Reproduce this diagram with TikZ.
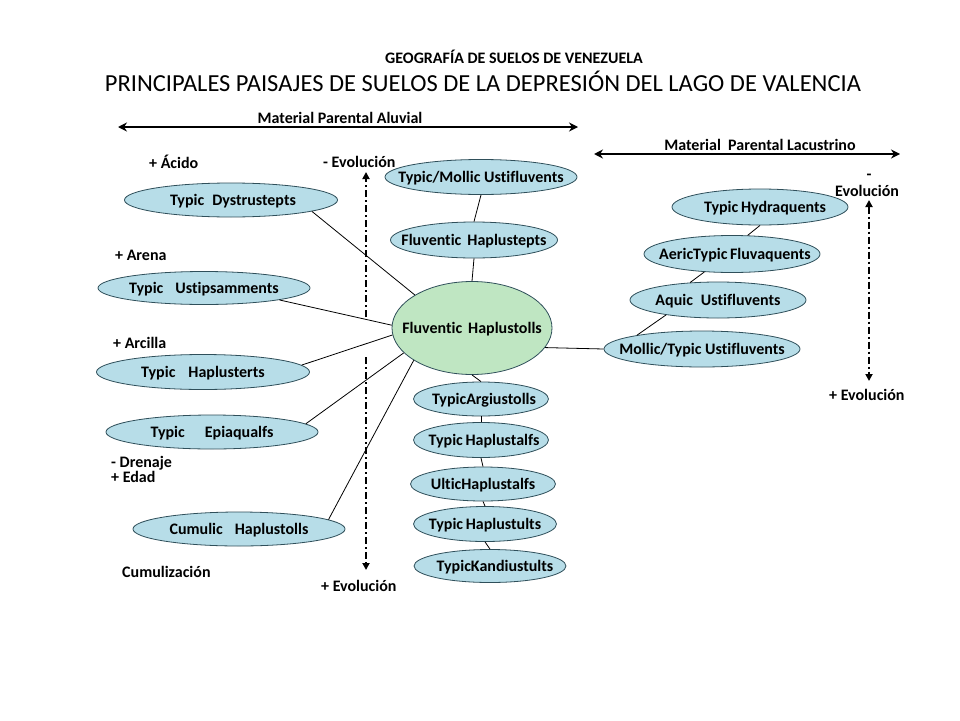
\documentclass[tikz,border=0pt]{standalone}
\usepackage{fontspec}
\setmainfont{Carlito}[Ligatures=NoCommon]
\usetikzlibrary{shapes.geometric,arrows.meta}
\definecolor{soilblue}{HTML}{B7DDE8}
\definecolor{soilgreen}{HTML}{BFE6C2}
\definecolor{bord}{HTML}{2F4F5A}
\newcommand{\soiltxt}[1]{\smash{\raisebox{-0.32em}{\makebox[0pt]{#1}}}}
\begin{document}
\begin{tikzpicture}[x=1pt,y=-1pt,
  soil/.style={ellipse, draw=bord, fill=soilblue, line width=0.8pt, inner sep=0pt,
    font=\fontsize{16}{18}\selectfont\bfseries},
  lbl/.style={inner sep=0pt, anchor=west, font=\fontsize{16}{18}\selectfont\bfseries},
  conn/.style={line width=0.8pt, draw=black},
  matarrow/.style={line width=2.4pt, {Stealth[length=9pt,width=9pt]}-{Stealth[length=9pt,width=9pt]}},
  evoarrow/.style={line width=2.6pt, dash pattern=on 7pt off 3pt on 2pt off 3pt, -{Triangle[length=7pt,width=7pt]}},
  evoarrow2/.style={line width=2.6pt, dash pattern=on 7pt off 3pt on 2pt off 3pt, {Triangle[length=7pt,width=7pt]}-{Triangle[length=7pt,width=7pt]}}
]
\useasboundingbox[fill=white] (0,0) rectangle (960,720);

% titles
\node[inner sep=0pt, font=\fontsize{16}{18}\selectfont\bfseries] (sub) at (514,57) {GEOGRAFÍA DE SUELOS DE VENEZUELA};
\node[inner sep=0pt, font=\fontsize{24.5}{28}\selectfont] (title) at (483,81) {PRINCIPALES PAISAJES DE SUELOS DE LA DEPRESIÓN DEL LAGO DE VALENCIA};

% material arrows
\node[inner sep=0pt, font=\fontsize{16}{18}\selectfont\bfseries] (mpa) at (340,118) {Material Parental Aluvial};
\coordinate (mpaL) at (118,127);
\coordinate (mpaR) at (578,127);
\draw[matarrow] (mpaL) -- (mpaR);
\node[inner sep=0pt, font=\fontsize{16}{18}\selectfont\bfseries] (mpl) at (760,145) {Material\ \ Parental Lacustrino};
\coordinate (mplL) at (594,154);
\coordinate (mplR) at (900,154);
\draw[matarrow] (mplL) -- (mplR);

% left labels
\node[lbl] (acido) at (149,162) {+ Ácido};
\node[lbl] (evo1) at (323,162) {- Evolución};
\node[lbl] (arena) at (115,255) {+ Arena};
\node[lbl] (arcilla) at (113,343) {+ Arcilla};
\node[lbl] (dren) at (111,463) {- Drenaje};
\node[lbl] (edad) at (111,477) {+ Edad};
\node[lbl] (cumz) at (122,572) {Cumulización};
\node[lbl] (evo2) at (321,586) {+ Evolución};
\node[lbl, anchor=center] (dashR) at (869,177) {-};
\node[lbl] (evo3) at (835,191) {Evolución};
\node[lbl] (evo4) at (829,395) {+ Evolución};

% left soils
\node[soil, minimum width=213pt, minimum height=34pt] (dys) at (231,200) {\soiltxt{\hspace{4pt}Typic\hspace{8pt}Dystrustepts}};
\node[soil, minimum width=212pt, minimum height=33pt] (ust) at (204,288) {\soiltxt{Typic\hspace{12pt}Ustipsamments}};
\node[soil, minimum width=213pt, minimum height=35pt] (hert) at (203,372) {\soiltxt{Typic\hspace{13pt}Haplusterts}};
\node[soil, minimum width=212pt, minimum height=34pt] (epi) at (212,432) {\soiltxt{Typic\hspace{20pt}Epiaqualfs}};
\node[soil, minimum width=212pt, minimum height=34pt] (cum) at (239,529) {\soiltxt{Cumulic\hspace{12pt}Haplustolls}};

% centre column
\node[soil, minimum width=192pt, minimum height=35pt] (tmu) at (481,177) {\soiltxt{Typic/Mollic Ustifluvents}};
\node[soil, minimum width=167pt, minimum height=36pt] (fhe) at (474,240) {\soiltxt{Fluventic\hspace{6pt}Haplustepts}};
\node[soil, fill=soilgreen, minimum width=160pt, minimum height=93pt] (cen) at (472,328) {\soiltxt{Fluventic\hspace{6pt}Haplustolls}};
\node[soil, minimum width=135pt, minimum height=34pt] (arg) at (481,399) {\soiltxt{\hspace{6pt}TypicArgiustolls}};
\node[soil, minimum width=135pt, minimum height=35pt] (hal) at (481,440) {\soiltxt{\hspace{6pt}Typic\,Haplustalfs}};
\node[soil, minimum width=145pt, minimum height=34pt] (ult) at (483,484) {\soiltxt{UlticHaplustalfs}};
\node[soil, minimum width=143pt, minimum height=35pt] (hut) at (485,524) {\soiltxt{Typic\,Haplustults}};
\node[soil, minimum width=152pt, minimum height=33pt] (kan) at (490,566) {\soiltxt{\hspace{10pt}TypicKandiustults}};

% right soils
\node[soil, minimum width=176pt, minimum height=36pt] (hyd) at (760,207) {\soiltxt{\hspace{10pt}Typic\,Hydraquents}};
\node[soil, minimum width=176pt, minimum height=37pt] (aer) at (732,254) {\soiltxt{\hspace{6pt}AericTypic\,Fluvaquents}};
\node[soil, minimum width=176pt, minimum height=36pt] (aqu) at (718,300) {\soiltxt{Aquic\hspace{8pt}Ustifluvents}};
\node[soil, minimum width=196pt, minimum height=36pt] (mol) at (702,349) {\soiltxt{Mollic/Typic Ustifluvents}};

% connectors
\draw[conn] (dys.-8.6) -- (cen.150);
\draw[conn] (ust.-9) -- (cen.178);
\draw[conn] (hert.4) -- (cen.185);
\draw[conn] (epi.5) -- (cen.200);
\draw[conn] (cum.6.6) -- (cen.209.5);
\draw[conn] (tmu.south) -- (fhe.north);
\draw[conn] (fhe.south) -- (cen.north);
\draw[conn] (cen.south) -- (arg.north);
\draw[conn] (arg.south) -- (hal.north);
\draw[conn] (hal.south) -- (ult.north);
\draw[conn] (ult.south) -- (hut.north);
\draw[conn] (hut.south) -- (kan.north);
\draw[conn] (cen.-15) -- (mol.west);
\draw[conn] (mol.168) -- (aqu.196);
\draw[conn] (aqu.148.7) -- (aer.213);
\draw[conn] (aer.50.5) -- (hyd.south);

% evolution arrows
\coordinate (eupS) at (366,317);
\coordinate (eupE) at (366,172);
\coordinate (ednS) at (366,357);
\coordinate (ednE) at (366,570);
\draw[evoarrow] (eupS) -- (eupE);
\draw[evoarrow] (ednS) -- (ednE);
\coordinate (erT) at (869,200);
\coordinate (erB) at (869,381);
\draw[evoarrow2] (erT) -- (erB);
\end{tikzpicture}
\end{document}
